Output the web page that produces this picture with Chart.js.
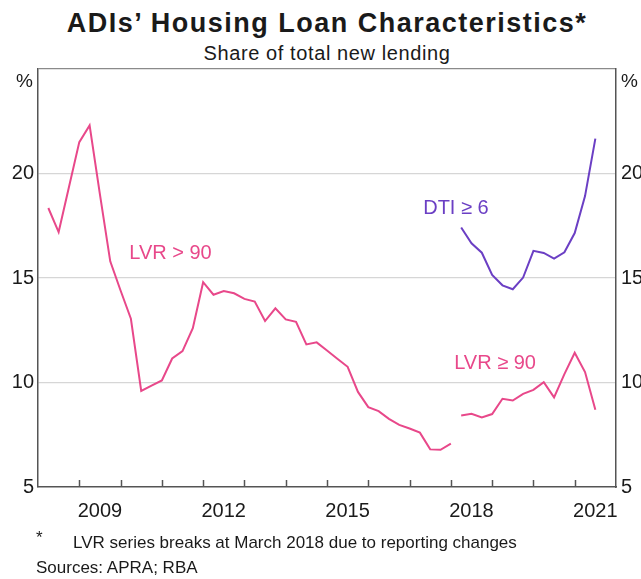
<!DOCTYPE html>
<html>
<head>
<meta charset="utf-8">
<script src="https://cdn.jsdelivr.net/npm/chart.js@4"></script>
<style>
  body {
    margin: 0;
    width: 641px;
    height: 579px;
    overflow: hidden;
    position: relative;
    background: #fff;
    font-family: 'Liberation Sans', Arial, sans-serif;
    color: #1a1a1a;
  }
  #title {
    position: absolute; left: 0; width: 654px; top: 10px;
    text-align: center; white-space: nowrap;
    font-weight: bold; font-size: 27px; line-height: 27px; letter-spacing: 1.5px;
  }
  #subtitle {
    position: absolute; left: 0; width: 654px; top: 43px;
    text-align: center; white-space: nowrap;
    font-size: 20px; line-height: 21px; letter-spacing: 0.6px;
  }
  .unit { position: absolute; top: 71px; font-size: 19px; line-height: 20px; }
  #chart { position: absolute; left: 0; top: 0; }
  .note { position: absolute; left: 36px; font-size: 17px; line-height: 17px; white-space: nowrap; }
</style>
</head>
<body>
<div id="title">ADIs’ Housing Loan Characteristics*</div>
<div id="subtitle">Share of total new lending</div>
<canvas id="chart" width="662" height="579"></canvas>
<div class="unit" style="left:16px">%</div>
<div class="unit" style="left:621px">%</div>
<div class="note" style="top:529px">*</div>
<div class="note" style="top:534px; left:73px">LVR series breaks at March 2018 due to reporting changes</div>
<div class="note" style="top:559px">Sources: APRA; RBA</div>

<script>
// quarterly data, share of total new lending (%)
// LVR > 90: Mar 2008 - Dec 2017 (series breaks at March 2018)
const lvrOldStart = '2008Q1';
const lvrOld = [
    18.35, 17.2, 19.35,
    21.5, 22.3, 19.0, 15.8,
    14.4, 13.05, 9.6, 9.85,
    10.1, 11.15, 11.5, 12.6,
    14.8, 14.2, 14.38, 14.27,
    14.0, 13.87, 12.94, 13.55,
    13.02, 12.9, 11.82, 11.92,
    11.53, 11.14, 10.75, 9.55,
    8.82, 8.63, 8.26, 7.97,
    7.8, 7.6, 6.8, 6.78,
    7.07
];
// LVR >= 90: Mar 2018 - Jun 2021
const lvrNewStart = '2018Q1';
const lvrNew = [
    8.42, 8.5, 8.33, 8.49,
    9.22, 9.14, 9.46, 9.65,
    10.02, 9.29, 10.4, 11.42,
    10.5, 8.7
];
// DTI >= 6: Mar 2018 - Jun 2021
const dtiStart = '2018Q1';
const dti = [
    17.42, 16.66, 16.21, 15.15,
    14.65, 14.46, 15.02, 16.3,
    16.2, 15.93, 16.23, 17.15,
    18.92, 21.67
];

const xTickLabels = ['2009', '2012', '2015', '2018', '2021'];
const yTicks = [5, 10, 15, 20];

const PINK = '#e8488a';
const PURPLE = '#6b3fc4';
const FONT = "'Liberation Sans', Arial, sans-serif";

// series labels placed on the chart: [text, year, value, colour]
const seriesLabels = [
    ['LVR > 90', 2010.21, 15.9, PINK],
    ['DTI \u2265 6', 2017.33, 18.06, PURPLE],
    ['LVR \u2265 90', 2018.08, 10.65, PINK],
];

// quarter-end position on a year axis: 2008Q1 -> 2008.25
function toPoints(start, values) {
    const year = parseInt(start.slice(0, 4));
    const q = parseInt(start.slice(5));
    return values.map((v, i) => ({ x: year + (q + i) / 4, y: v }));
}

const innerTicks = {
    id: 'innerTicks',
    afterDatasetsDraw(chart) {
        const ctx = chart.ctx;
        const xs = chart.scales.x;
        const bottom = chart.chartArea.bottom;
        ctx.save();
        ctx.strokeStyle = '#555';
        ctx.lineWidth = 1.5;
        xs.ticks.forEach(t => {
            if (t.value <= xs.min || t.value >= xs.max) return;
            const px = Math.round(xs.getPixelForValue(t.value)) + 0.5;
            ctx.beginPath();
            ctx.moveTo(px, bottom);
            ctx.lineTo(px, bottom - 7);
            ctx.stroke();
        });
        ctx.restore();
    }
};

const labelPlugin = {
    id: 'seriesLabels',
    afterDatasetsDraw(chart) {
        const ctx = chart.ctx;
        const xs = chart.scales.x, ys = chart.scales.y;
        ctx.save();
        ctx.font = '20px ' + FONT;
        ctx.textBaseline = 'alphabetic';
        ctx.textAlign = 'left';
        seriesLabels.forEach(([text, x, y, color]) => {
            ctx.fillStyle = color;
            ctx.fillText(text, xs.getPixelForValue(x), ys.getPixelForValue(y));
        });
        ctx.restore();
    }
};

const yTickOpts = {
    stepSize: 5,
    color: '#1a1a1a',
    font: { family: FONT, size: 20 },
    callback: v => yTicks.includes(v) ? String(v) : ''
};

new Chart(document.getElementById('chart'), {
    type: 'line',
    data: {
        datasets: [
            {
                label: 'LVR > 90',
                data: toPoints(lvrOldStart, lvrOld),
                borderColor: PINK,
                borderWidth: 2,
                pointRadius: 0,
                tension: 0
            },
            {
                label: 'LVR \u2265 90',
                data: toPoints(lvrNewStart, lvrNew),
                borderColor: PINK,
                borderWidth: 2,
                pointRadius: 0,
                tension: 0
            },
            {
                label: 'DTI \u2265 6',
                data: toPoints(dtiStart, dti),
                borderColor: PURPLE,
                borderWidth: 2,
                pointRadius: 0,
                tension: 0
            },
        ]
    },
    options: {
        responsive: false,
        animation: false,
        devicePixelRatio: 1,
        layout: { padding: { top: 69, left: 0, right: 0, bottom: 0 } },
        scales: {
            x: {
                type: 'linear',
                min: 2008,
                max: 2022,
                afterFit: s => { s.height = 92; },
                grid: { display: false, drawTicks: false },
                border: { display: true, color: '#555', width: 1.5 },
                ticks: {
                    stepSize: 1,
                    autoSkip: false,
                    maxRotation: 0,
                    padding: 12,
                    labelOffset: 20.6,
                    color: '#1a1a1a',
                    font: { family: FONT, size: 20 },
                    callback: v => xTickLabels.includes(String(v)) ? String(v) : ''
                }
            },
            y: {
                position: 'left',
                min: 5,
                max: 25,
                afterFit: s => { s.width = 38; },
                grid: {
                    drawTicks: false,
                    lineWidth: 1.2,
                    color: c => c.tick && c.tick.value === 25 ? '#8a8a8a'
                        : (c.tick && c.tick.value === 5 ? 'rgba(0,0,0,0)' : '#d6d6d6')
                },
                border: { display: true, color: '#555', width: 1.5 },
                ticks: Object.assign({ padding: 4 }, yTickOpts)
            },
            y2: {
                position: 'right',
                min: 5,
                max: 25,
                afterFit: s => { s.width = 46; },
                grid: { display: false, drawTicks: false },
                border: { display: true, color: '#555', width: 1.5 },
                ticks: Object.assign({ padding: 5 }, yTickOpts)
            }
        },
        plugins: {
            legend: { display: false },
            tooltip: { enabled: false }
        }
    },
    plugins: [innerTicks, labelPlugin]
});
</script>
</body>
</html>
